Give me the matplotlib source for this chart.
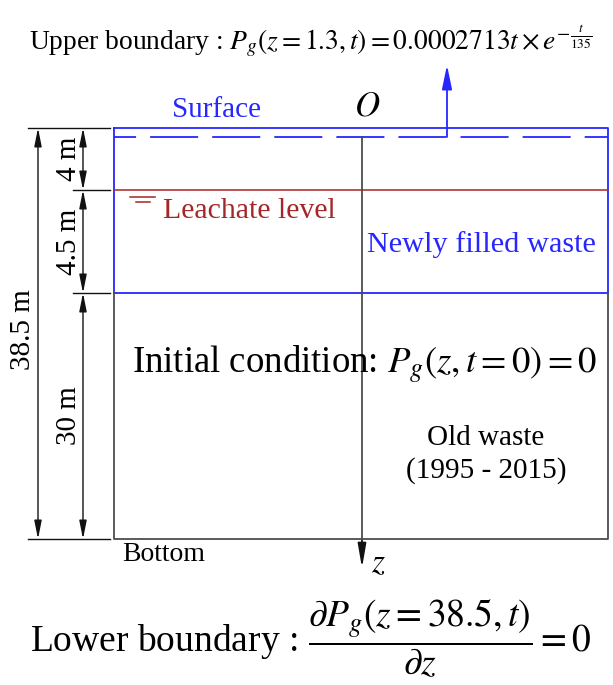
"""
schematic of the landfill model domain: layers, leachate level and boundary conditions
"""

import matplotlib

matplotlib.use("Agg")
import matplotlib.pyplot as plt
from matplotlib.patches import FancyArrowPatch

# ---- data ----
layer_thickness_m = [4.0, 4.5, 30.0]  # top -> bottom
total_depth_m = sum(layer_thickness_m)  # 38.5 m
upper_z = 1.3
upper_coef = 0.0002713
upper_tau = 135
old_waste_years = (1995, 2015)

# ---- layout (pixels, y down) ----
W, H = 613, 685
box_left, box_right = 114, 608
layer_y = [128, 190, 293, 539]  # surface, leachate, base of new waste, bottom
dash_y = 137
axis_x = 362
up_arrow_x = 447
dim_outer_x = 38
dim_inner_x = 83

BLUE = "#2626ff"
RED = "#a52626"
GRAY = "#4d4d4d"
BLACK = "#111111"
SERIF = ["Liberation Serif", "DejaVu Serif"]

plt.rcParams["font.family"] = SERIF
plt.rcParams["mathtext.fontset"] = "stix"
plt.rcParams["lines.scale_dashes"] = False

fig = plt.figure(figsize=(W / 100, H / 100), dpi=100)
ax = fig.add_axes([0, 0, 1, 1])
ax.set_xlim(0, W)
ax.set_ylim(H, 0)
ax.axis("off")


def arrow(p0, p1, style, color, lw, hl, hw):
    ax.add_patch(
        FancyArrowPatch(
            p0, p1,
            arrowstyle=f"{style},head_length={hl},head_width={hw}",
            mutation_scale=10, color=color, lw=lw,
            shrinkA=0, shrinkB=0,
        )
    )


# newly filled waste (blue box) and old waste (gray box)
top, leach, base, bottom = layer_y
ax.plot([box_left, box_right, box_right, box_left, box_left],
        [top, top, base, base, top], color=BLUE, lw=1.3)
ax.plot([box_left, box_left, box_right, box_right],
        [base, bottom, bottom, base], color=GRAY, lw=1.3)
ax.plot([box_left, box_right], [dash_y, dash_y], color=BLUE, lw=1.3,
        linestyle=(18.7, (34.6, 10.1)))
ax.plot([box_left, box_right], [leach, leach], color=RED, lw=1.1)

# water level symbol
ax.plot([130, 155], [197, 197], color=RED, lw=1.1)
ax.plot([136, 150], [202, 202], color=RED, lw=1.1)

# z axis
ax.plot([axis_x, axis_x], [dash_y, bottom], color=GRAY, lw=1.3)
arrow((axis_x, bottom), (axis_x, 568), "-|>", BLACK, 1.3, 1.45, 0.25)
ax.text(axis_x + 16, 564, "$z$", fontsize=24, ha="center", va="center")
ax.text(axis_x + 5, 107, "$O$", fontsize=25, ha="center", va="center")

# gas release arrow to upper boundary
arrow((up_arrow_x, dash_y), (up_arrow_x, 65), "-|>", BLUE, 1.3, 1.45, 0.3)

# dimension lines
ax.plot([28, 110], [top, top], color=BLACK, lw=1.0)
ax.plot([28, 110], [bottom, bottom], color=BLACK, lw=1.0)
ax.plot([73, 110], [leach, leach], color=BLACK, lw=1.0)
ax.plot([73, 110], [base, base], color=BLACK, lw=1.0)
arrow((dim_outer_x, top), (dim_outer_x, bottom), "<|-|>", BLACK, 1.0, 1.1, 0.22)
ax.text(dim_outer_x - 15, (top + bottom) / 2 - 4, f"{total_depth_m:g} m",
        fontsize=21, rotation=90, ha="center", va="center")
for y0, y1, th in zip(layer_y[:-1], layer_y[1:], layer_thickness_m):
    arrow((dim_inner_x, y0), (dim_inner_x, y1), "<|-|>", BLACK, 1.0, 1.1, 0.22)
    ax.text(dim_inner_x - 14, (y0 + y1) / 2, f"{th:g} m",
            fontsize=21, rotation=90, ha="center", va="center")

# labels
ax.text(216, 117, "Surface", fontsize=21, color=BLUE, ha="center", va="baseline")
ax.text(163, 218, "Leachate level", fontsize=21.5, color=RED, ha="left", va="baseline")
ax.text(367, 252, "Newly filled waste", fontsize=21.8, color=BLUE, ha="left", va="baseline")
ax.text(132, 373, r"Initial condition: $P_g\left(z,t=0\right)=0$",
        fontsize=26.5, ha="left", va="baseline")
ax.text(486, 445, "Old waste", fontsize=21, ha="center", va="baseline")
ax.text(486, 478, f"({old_waste_years[0]} - {old_waste_years[1]})",
        fontsize=21, ha="center", va="baseline")
ax.text(122, 561, "Bottom", fontsize=20, ha="left", va="baseline")

ax.text(29, 49,
        rf"Upper boundary : $P_g\left(z={upper_z},t\right)={upper_coef}t\times e^{{-\frac{{t}}{{{upper_tau}}}}}$",
        fontsize=19.8, ha="left", va="baseline")
ax.text(30, 652,
        rf"Lower boundary : $\dfrac{{\partial P_g\left(z={total_depth_m:g},t\right)}}{{\partial z}}=0$",
        fontsize=27, ha="left", va="baseline")

fig.savefig("out.png", dpi=100)
